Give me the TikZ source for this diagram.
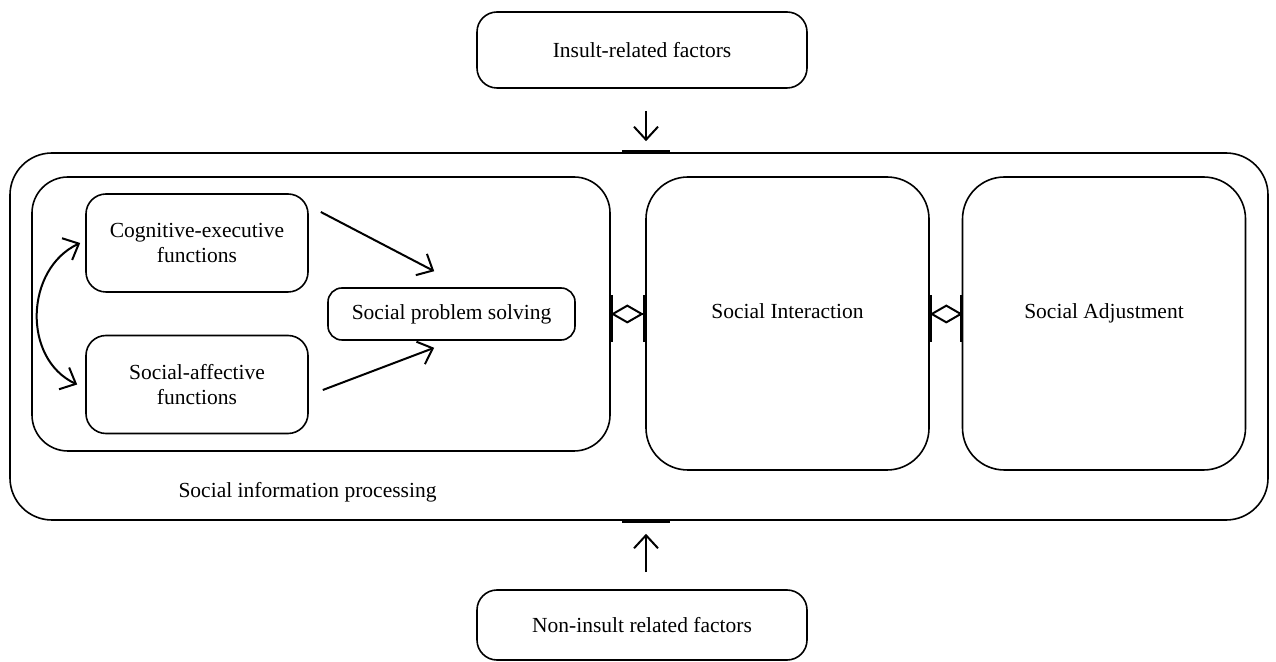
\documentclass[tikz,border=0pt]{standalone}
\usepackage{fontspec}
\setmainfont{Liberation Serif}
\usepackage{tikz}
\usetikzlibrary{arrows.meta}
\tikzstyle{Factor}=[minimum width=330pt, minimum height=76pt, line width=1.6pt, draw=black, rounded corners=20pt, font=\fontsize{21.5pt}{25pt}\selectfont]
\tikzstyle{Domain}=[minimum width=283pt, minimum height=293pt, text depth=25pt, line width=1.6pt, draw=black, rounded corners=42pt, font=\fontsize{21.5pt}{25pt}\selectfont]
\tikzstyle{Function}=[minimum width=222pt, minimum height=98pt, line width=1.6pt, draw=black, rounded corners=20pt, align=center, font=\fontsize{21.5pt}{25pt}\selectfont]
\tikzstyle{Frame}=[line width=1.6pt, draw=black, inner sep=0pt]
\tikzstyle{arrow}=[line width=2pt, -{Straight Barb[length=13pt, width=24pt]}]
\tikzstyle{bar}=[line width=3.5pt]
\tikzstyle{link}=[line width=2pt, {Diamond[open, length=33pt, width=19pt]}-]
\pgfdeclarelayer{nodelayer}
\pgfdeclarelayer{edgelayer}
\pgfsetlayers{main, nodelayer, edgelayer}

\begin{document}
\begin{tikzpicture}[x=1pt, y=1pt]
	\useasboundingbox (0,0) rectangle (1276,661);
	\begin{pgfonlayer}{nodelayer}
		% outside factors
		\node [style=Factor] (insult) at (642, 611) {Insult-related factors};
		\node [style=Factor, minimum height=70pt] (noninsult) at (642, 36) {Non-insult related factors};
		% frames
		\node [style=Frame, rounded corners=42pt, minimum width=1258pt, minimum height=367pt] (outer) at (639, 324.5) {};
		\node [style=Frame, rounded corners=36pt, minimum width=578pt, minimum height=274pt] (sip) at (321, 347) {};
		\node [anchor=west, font=\fontsize{21.5pt}{25pt}\selectfont] (siplabel) at (175, 169) {Social information processing};
		% social information processing
		\node [style=Function] (cognitive) at (197, 418) {Cognitive-executive\\functions};
		\node [style=Function] (affective) at (197, 276.5) {Social-affective\\functions};
		\node [style=Function, minimum width=247pt, minimum height=52pt, rounded corners=14pt] (solving) at (451.5, 347) {Social problem solving};
		% outcomes
		\node [style=Domain] (interaction) at (787.5, 337.5) {Social Interaction};
		\node [style=Domain] (adjustment) at (1104, 337.5) {Social Adjustment};
	\end{pgfonlayer}
	\begin{pgfonlayer}{edgelayer}
		% factors into the model
		\draw [style=arrow, shorten <=22pt, shorten >=11pt] (insult.south -| 646,0) -- (outer.north -| 646,0);
		\draw [style=arrow, shorten <=17pt, shorten >=13pt] (noninsult.north -| 646,0) -- (outer.south -| 646,0);
		\draw [style=bar] ([xshift=-24pt]outer.north -| 646,0) -- ([xshift=24pt]outer.north -| 646,0);
		\draw [style=bar] ([xshift=-24pt]outer.south -| 646,0) -- ([xshift=24pt]outer.south -| 646,0);
		% functions into problem solving
		\draw [style=arrow] ([xshift=12pt, yshift=31pt]cognitive.east) -- ([xshift=107pt, yshift=16pt]solving.north west);
		\draw [style=arrow] ([xshift=14pt, yshift=-5.5pt]affective.east) -- ([xshift=107pt, yshift=-7pt]solving.south west);
		\draw [style=arrow, {Straight Barb[length=13pt, width=24pt]}-{Straight Barb[length=13pt, width=24pt]}] ([xshift=-5pt]cognitive.west) to [out=205, in=155, looseness=1.1] ([xshift=-8pt]affective.west);
		% links between domains
		\draw [style=bar] (sip.east |- 0,319) -- (sip.east |- 0,366);
		\draw [style=bar] (interaction.west |- 0,319) -- (interaction.west |- 0,366);
		\draw [style=link] (sip.east) -- (sip.east -| interaction.west);
		\draw [style=bar] (interaction.east |- 0,319) -- (interaction.east |- 0,366);
		\draw [style=bar] (adjustment.west |- 0,319) -- (adjustment.west |- 0,366);
		\draw [style=link] (interaction.east |- sip.east) -- (adjustment.west |- sip.east);
	\end{pgfonlayer}
\end{tikzpicture}
\end{document}
